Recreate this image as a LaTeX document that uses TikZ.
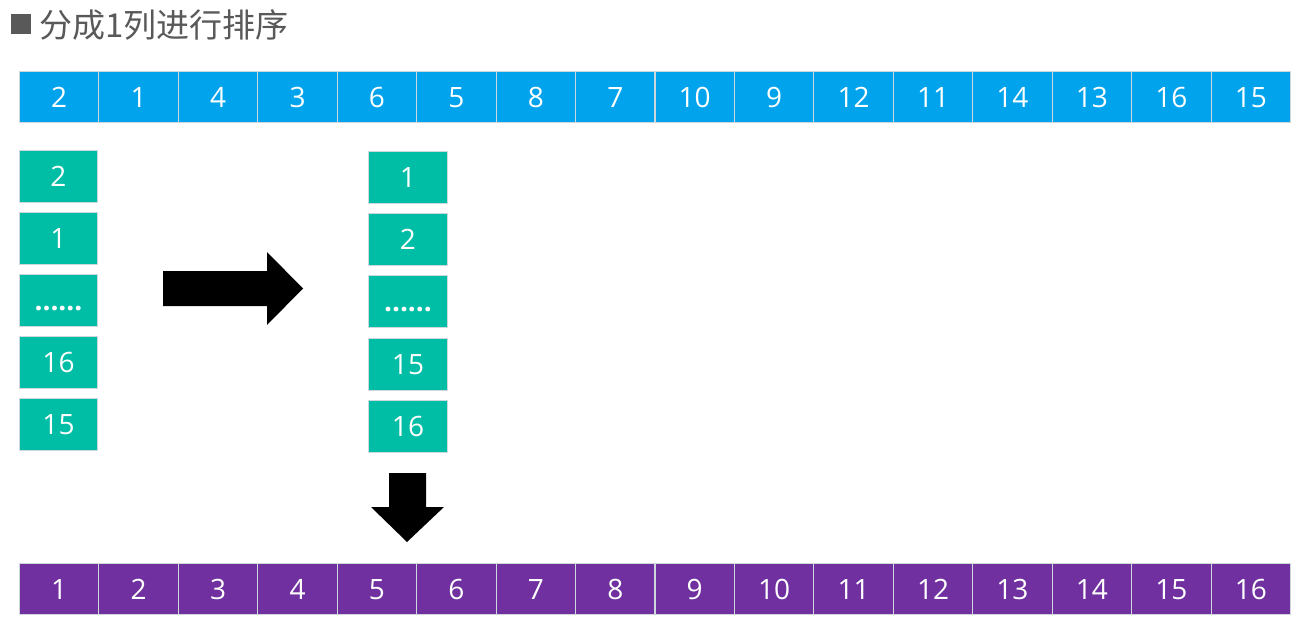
\documentclass[tikz,border=0pt]{standalone}
\usepackage{fontspec}
\setmainfont{Open Sans}
\newfontfamily\cjk{Noto Sans CJK SC}
\definecolor{cblue}{RGB}{0,163,236}
\definecolor{cteal}{RGB}{0,189,166}
\definecolor{cpurple}{RGB}{112,48,160}
\definecolor{cgray}{RGB}{89,89,89}
\definecolor{cedge}{RGB}{205,215,220}
\newcommand{\sixdots}{\textbf{......}}
\begin{document}
\begin{tikzpicture}[x=1pt,y=-1pt,
  cell/.style={minimum width=79.4pt, minimum height=51pt, inner sep=0pt, draw=cedge, line width=1pt,
    text=white, font=\fontsize{28}{28}\selectfont, text height=20pt, text depth=0pt, anchor=north west},
  colbox/.style={cell, fill=cteal, minimum width=78pt, minimum height=52pt},
  blockarrow/.style={fill=black, draw=none}]
\useasboundingbox (0,0) rectangle (1310,642);
\node[fill=cgray, minimum size=20pt, inner sep=0pt, anchor=north west] (sq) at (11,14) {};
\node[anchor=west, text=cgray, font=\cjk\fontsize{33}{33}\selectfont, inner sep=0pt] (title) at (39,25) {分成1列进行排序};
\foreach \v [count=\i] in {2,1,4,3,6,5,8,7,10,9,12,11,14,13,16,15}
  \node[cell, fill=cblue] (t\i) at ({19+(\i-1)*79.44},71) {\v};
\foreach \i in {1,2,...,16}
  \node[cell, fill=cpurple] (b\i) at ({19+(\i-1)*79.44},563) {\i};
\foreach \v/\y [count=\i] in {2/150,1/212,\sixdots/274,16/336,15/398}
  \node[colbox] (l\i) at (19,\y) {\v};
\foreach \v/\y [count=\i] in {1/151,2/213,\sixdots/275,15/338,16/400}
  \node[colbox, minimum width=79pt] (r\i) at (368,\y) {\v};
\fill[blockarrow] (163,271) -- (267,271) -- (267,252) -- (303,288.5) -- (267,325) -- (267,306) -- (163,306) -- cycle;
\fill[blockarrow] (389,473) -- (426,473) -- (426,507) -- (444,507) -- (407,542) -- (371,507) -- (389,507) -- cycle;
\end{tikzpicture}
\end{document}
